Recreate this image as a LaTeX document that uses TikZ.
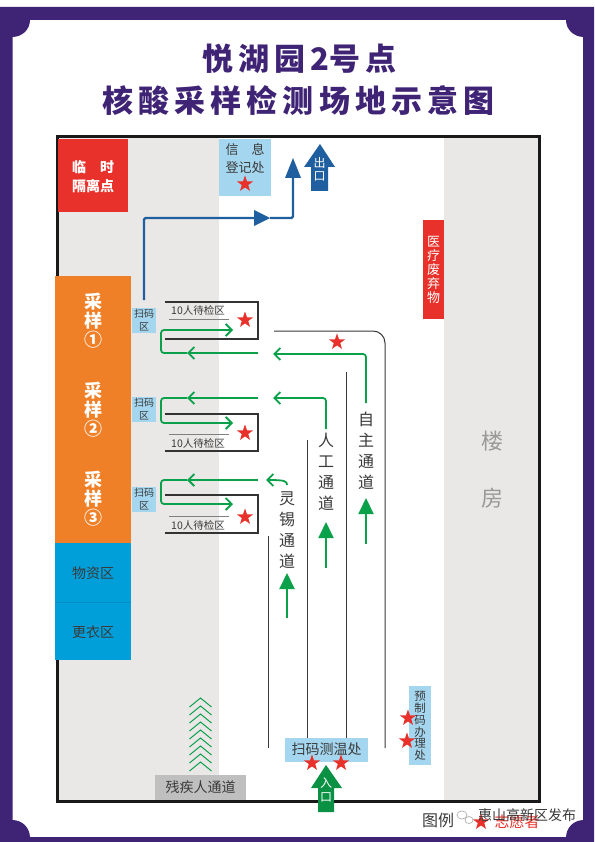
\documentclass[tikz,border=0pt]{standalone}
\usepackage{fontspec}
\setmainfont{Noto Sans CJK SC}
\usetikzlibrary{arrows.meta,positioning,shapes.geometric}
\definecolor{framepurple}{HTML}{3F2476}
\definecolor{floorgray}{HTML}{E9E8E7}
\definecolor{signred}{HTML}{E8312A}
\definecolor{signorange}{HTML}{F08028}
\definecolor{signblue}{HTML}{009FD9}
\definecolor{paleblue}{HTML}{A5D6EF}
\definecolor{pathgreen}{HTML}{0BA14B}
\definecolor{exitblue}{HTML}{1F5FA0}
\definecolor{inkgray}{HTML}{3A3A3A}
\tikzset{
  redstar/.style={star,star points=5,star point ratio=2.5,fill=signred,inner sep=0pt,minimum size=17pt},
  greenpath/.style={pathgreen,line width=1.8pt,rounded corners=3pt,-{Straight Barb[length=6pt,width=12pt,line width=1.8pt]}},
  greenup/.style={pathgreen,line width=2pt,-{Triangle[length=16pt,width=15pt]}},
  bluepath/.style={exitblue,line width=2.4pt,rounded corners=1.5pt},
  lanewall/.style={inkgray,line width=1pt},
  waitwall/.style={black!80,line width=1.2pt},
  lanelabel/.style={inkgray,align=center,font=\fontsize{16}{21}\selectfont},
  scanlabel/.style={inkgray,align=center,font=\fontsize{10}{13}\selectfont},
  waitlabel/.style={inkgray,font=\fontsize{10.5}{12}\selectfont},
  samplelabel/.style={white,align=center,font=\fontsize{18}{19}\selectfont\bfseries},
  roomlabel/.style={inkgray,font=\fontsize{14}{16}\selectfont},
  whitelabel/.style={white,align=center,font=\fontsize{13}{14}\selectfont},
}
\begin{document}
\begin{tikzpicture}[x=1pt,y=-1pt]
\useasboundingbox (0,0) rectangle (594,842);
\fill[white] (0,0) rectangle (594,842);
\fill[framepurple,even odd rule] (0,7) rectangle (594,842) (12.5,20) rectangle (583,837);
\fill[framepurple] (12,20) -- (30,20) .. controls (30,29.4) and (22.4,37) .. (12,37) -- cycle;
\fill[framepurple] (584,20) -- (566,20) .. controls (566,29.4) and (573.6,37) .. (584,37) -- cycle;
\fill[framepurple] (12,838) -- (30,838) .. controls (30,827.6) and (22.4,820) .. (12,820) -- cycle;
\fill[framepurple] (584,838) -- (566,838) .. controls (566,827.6) and (573.6,820) .. (584,820) -- cycle;
\node[framepurple,font=\fontsize{31}{36}\selectfont\bfseries] (title1) at (299.5,59) {悦\,湖\,园\,2号\,点};
\node[framepurple,font=\fontsize{31}{36}\selectfont\bfseries] (title2) at (298.5,101) {核\,酸\,采\,样\,检\,测\,场\,地\,示\,意\,图};

\fill[floorgray] (57,137) rectangle (219,801);
\fill[floorgray] (444,137) rectangle (539,801);
\draw[black!90,line width=3pt] (57,137) rectangle (539,801);

\fill[signred] (58,139) rectangle (128,212);
\node[white,align=center,font=\fontsize{14}{19}\selectfont\bfseries] (isolate) at (93,176.5) {临\quad 时\\隔离点};
\fill[paleblue] (219,139) rectangle (271,196);
\node[inkgray,align=center,font=\fontsize{13}{18}\selectfont] (register) at (245,159) {信\quad 息\\登记处};
\node[redstar] (registerstar) at (245,184) {};
\fill[signred] (423,220) rectangle (444,319);
\node[white,align=center,font=\fontsize{13}{14}\selectfont] (waste) at (433.5,270) {医\\疗\\废\\弃\\物};

\draw[bluepath] (144,300) -- (144,218) -- (256,218);
\fill[exitblue] (254,210) -- (270,218) -- (254,226) -- cycle;
\draw[bluepath] (270,218) -- (293,218) -- (293,175);
\fill[exitblue] (293,158) -- (301,178) -- (285,178) -- cycle;
\fill[exitblue] (320,144) -- (335,167) -- (328,167) -- (328,191) -- (311,191) -- (311,167) -- (304,167) -- cycle;
\node[whitelabel,font=\fontsize{12}{13}\selectfont] (exit) at (319.5,169) {出\\口};

\foreach \ytop/\ybot/\ytext/\digit in {276/365/321/①,365/454/410/②,454/543/499/③}{
  \fill[signorange] (55,\ytop) rectangle (131,\ybot);
  \draw[black!15!signorange,line width=.5pt] (55,\ybot) -- (131,\ybot);
  \node[samplelabel] (sample\digit) at (93,\ytext) {采\\样\\\digit};
}
\fill[signblue] (55,543) rectangle (131,660);
\draw[black!10!signblue,line width=.5pt] (55,602) -- (131,602);
\node[roomlabel] (supply) at (93,573) {物资区};
\node[roomlabel] (changing) at (93,632) {更衣区};

\foreach \ybox in {308,397,487}{
  \fill[paleblue] (132,\ybox) rectangle (156,\ybox+25);
  \node[scanlabel] (scan\ybox) at (144,\ybox+12.5) {扫码\\区};
}

\draw[waitwall] (165,302) -- (258,302) -- (258,339) -- (165,339);
\draw[gray,line width=1pt] (169,319) -- (229,319);
\node[waitlabel] (wait1) at (198,310) {10人待检区};
\node[redstar] (waitstar1) at (245,320) {};
\draw[waitwall] (165,414) -- (258,414) -- (258,451) -- (165,451);
\draw[gray,line width=1pt] (169,434) -- (229,434);
\node[waitlabel] (wait2) at (198,443) {10人待检区};
\node[redstar] (waitstar2) at (245,433) {};
\draw[waitwall] (165,495) -- (258,495) -- (258,533) -- (165,533);
\draw[gray,line width=1pt] (169,516) -- (229,516);
\node[waitlabel] (wait3) at (198,525) {10人待检区};
\node[redstar] (waitstar3) at (245,517) {};

\foreach \yout/\yin in {353/330,398/423,480/504}{
  \draw[greenpath] (258,\yout) -- (187,\yout);
  \draw[greenpath] (187,\yout) -- (161,\yout) -- (161,\yin) -- (233,\yin);
}
\draw[greenpath] (366,403) -- (366,354) -- (273,354);
\draw[greenpath] (326,429) -- (326,398) -- (273,398);
\draw[greenpath] (287,485) .. controls (287,481) and (285,480) .. (266,480);

\draw[lanewall,rounded corners=12pt] (274,331) -- (385,331) -- (385,748);
\draw[lanewall] (346,372) -- (346,738);
\draw[lanewall] (307.5,440) -- (307.5,738);
\draw[lanewall] (268.5,536) -- (268.5,748);
\node[redstar] (lanestar) at (337,342) {};

\node[lanelabel] (selflane) at (366,451) {自\\主\\通\\道};
\node[lanelabel] (manuallane) at (326,472) {人\\工\\通\\道};
\node[lanelabel] (lingxilane) at (287,530) {灵\\锡\\通\\道};
\draw[greenup] (366,544) -- (366,498);
\draw[greenup] (326,568) -- (326,522);
\draw[greenup] (287,618) -- (287,573);

\fill[paleblue] (285,738) rectangle (368,762);
\node[roomlabel] (thermo) at (326.5,749) {扫码测温处};
\node[redstar] (thermostar1) at (312,763) {};
\node[redstar] (thermostar2) at (341,763) {};
\fill[pathgreen!90!black] (326,765) -- (342,788) -- (334,788) -- (334,812) -- (318,812) -- (318,788) -- (311,788) -- cycle;
\node[whitelabel,font=\fontsize{12}{14}\selectfont] (entry) at (326,790) {入\\口};

\fill[paleblue] (409,686) rectangle (431,765);
\node[inkgray,align=center,font=\fontsize{11.5}{11.8}\selectfont] (precode) at (420,726) {预\\制\\码\\办\\理\\处};
\node[redstar] (precodestar1) at (408,718) {};
\node[redstar] (precodestar2) at (407,741) {};

\foreach \k in {0,...,8}{
  \draw[pathgreen,line width=1pt] (189.5,698+8*\k+9) -- (200.5,698+8*\k) -- (211.5,698+8*\k+9);
}
\fill[black!25] (155,775) rectangle (246,800);
\node[roomlabel] (accessible) at (200.5,787.5) {残疾人通道};

\node[gray!80,font=\fontsize{22}{24}\selectfont] (block1) at (492,441) {楼};
\node[gray!80,font=\fontsize{22}{24}\selectfont] (block2) at (492,498) {房};

\node[signred,font=\fontsize{15}{17}\selectfont] (volunteer) at (517,822) {志愿者};
\node[redstar] (legendstar) at (481,822) {};
\node[inkgray,font=\fontsize{16}{18}\selectfont] (legend) at (438,820) {图例};
\draw[gray!60,line width=.7pt,fill=white] (462,815) ellipse (5 and 4);
\draw[gray!60,line width=.7pt,fill=white] (469,820) ellipse (4 and 3.5);
\node[inkgray,font=\fontsize{14}{16}\selectfont] (watermark) at (527,815) {惠山高新区发布};
\end{tikzpicture}
\end{document}
